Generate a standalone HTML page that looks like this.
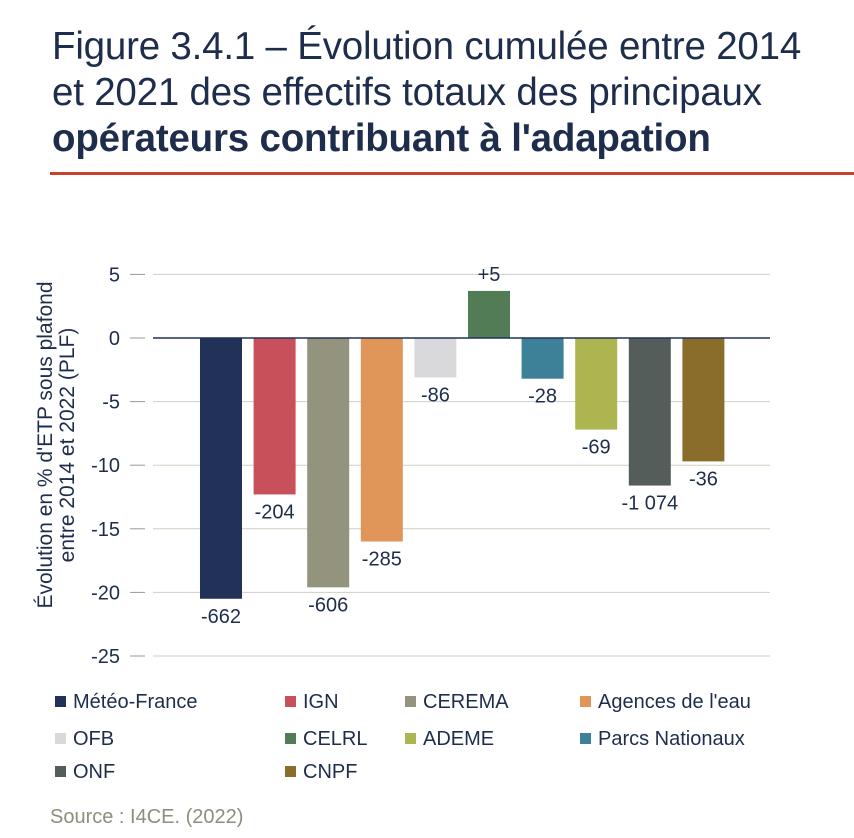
<!DOCTYPE html>
<html><head><meta charset="utf-8"><style>
body{margin:0;background:#fff;width:854px;height:838px;overflow:hidden;font-family:"Liberation Sans",sans-serif;color:#1f2d4d}
#title{position:absolute;left:52px;top:24px;font-size:38.5px;line-height:46px;color:#1f2d4d;letter-spacing:-0.2px;white-space:nowrap}
#rule{position:absolute;left:50px;top:172px;width:804px;height:3px;background:#c8402f}
svg{position:absolute;left:0;top:0}
</style></head><body>
<div id="title">Figure 3.4.1 – Évolution cumulée entre 2014<br>et 2021 des effectifs totaux des principaux<br><b>opérateurs contribuant à l'adapation</b></div>
<div id="rule"></div>
<svg id="chart" width="854" height="838"></svg>
<script>
const categories=["Météo-France","IGN","CEREMA","Agences de l'eau","OFB","CELRL","Parcs Nationaux","ADEME","ONF","CNPF"];
const values=[-20.5,-12.3,-19.6,-16.0,-3.1,3.7,-3.2,-7.2,-11.6,-9.7];
const valueLabels=["-662","-204","-606","-285","-86","+5","-28","-69","-1 074","-36"];
const colors=["#223157","#c8505a","#93937e","#e09658","#d9d9db","#517c55","#3c8197","#adb550","#555d5a","#8a6c2b"];
const ticks=[5,0,-5,-10,-15,-20,-25];
const NS="http://www.w3.org/2000/svg";
const svg=document.getElementById('chart');
const y=v=>338-v*12.72;
const x=i=>200+i*53.6;
const bw=42;
function mk(t,a){const e=document.createElementNS(NS,t);for(const k in a)e.setAttribute(k,a[k]);svg.appendChild(e);return e;}
ticks.forEach(t=>{
 if(t!==0){const g=mk('line',{x1:153,x2:770,y1:y(t),y2:y(t),stroke:'#cfcfc4','stroke-width':1});
 
 }
 const tm=mk('line',{x1:130,x2:145,y1:y(t),y2:y(t),stroke:'#999','stroke-width':1});
 
 
 const tl=mk('text',{x:120,y:y(t)+7,'text-anchor':'end','font-size':20,fill:'#1f2d4d'});
 tl.textContent=t;
 
 
});
values.forEach((v,i)=>{
 const top=Math.min(y(v),y(0)),h=Math.abs(y(v)-y(0));
 const r=mk('rect',{x:x(i),y:top,width:bw,height:h,fill:colors[i]});
 
 
 const ly=v>=0?y(v)-10:y(v)+24;
 const t=mk('text',{x:x(i)+bw/2,y:ly,'text-anchor':'middle','font-size':20,fill:'#1f2d4d'});
 t.textContent=valueLabels[i];
 
 
});
const z=mk('line',{x1:153,x2:770,y1:y(0),y2:y(0),stroke:'#223157','stroke-width':1.5});


const yt=mk('text',{transform:'translate(52,445) rotate(-90)','text-anchor':'middle','font-size':21,fill:'#1f2d4d'});


const s1=document.createElementNS(NS,'tspan');s1.setAttribute('x',0);s1.setAttribute('dy',0);s1.textContent="Évolution en % d'ETP sous plafond";yt.appendChild(s1);
const s2=document.createElementNS(NS,'tspan');s2.setAttribute('x',0);s2.setAttribute('dy',22);s2.textContent="entre 2014 et 2022 (PLF)";yt.appendChild(s2);
const legCols=[55,285,405,580],legRows=[703,740,773];
const legOrder=[0,1,2,3,4,5,7,6,8,9];
legOrder.forEach((ci,k)=>{
 let col=k%4,row=Math.floor(k/4);
 if(row===2)col=k-8===0?0:1;
 const lx=legCols[col],ly=legRows[row];
 const sq=mk('rect',{x:lx,y:ly-7,width:11,height:11,fill:colors[ci]});
 
 
 const t=mk('text',{x:lx+18,y:ly+5,'font-size':20,fill:'#1f2d4d'});
 t.textContent=categories[ci];
 
 
});
const src=mk('text',{x:50,y:823,'font-size':20,fill:'#8e8e7a'});
src.textContent="Source : I4CE. (2022)";


</script>
</body></html>
